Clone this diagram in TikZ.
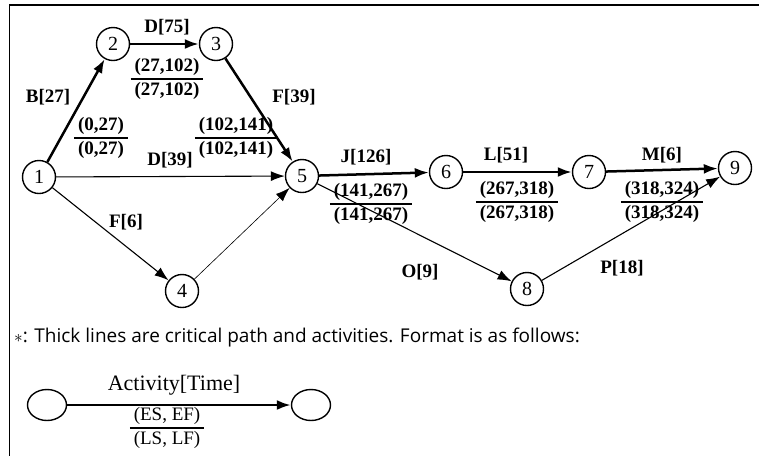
\documentclass[tikz,border=0pt]{standalone}
\usepackage{fontspec}
\setmainfont{Liberation Serif}
\setsansfont{Open Sans}
\usetikzlibrary{arrows.meta,shapes.geometric}

% two-line ES/EF over LS/LF label
\newcommand\frc[2]{\begin{tabular}{@{\hspace{4pt}}c@{\hspace{4pt}}}#1\\\hline #2\end{tabular}}
\setlength\arrayrulewidth{1.3pt}

\tikzset{
  ev/.style={circle, draw, line width=1.4pt, minimum size=33pt, inner sep=0pt,
             font=\fontsize{20}{20}\selectfont},
  lab/.style={inner sep=0pt, font=\fontsize{19}{23}\selectfont\bfseries},
  tip/.style={-{Latex[length=14pt,width=10pt]}},
  crit/.style={tip, line width=2.5pt},
  act/.style={tip, line width=1.1pt},
  faint/.style={tip, line width=0.6pt},
  legev/.style={ellipse, draw, line width=1.4pt, minimum width=39pt, minimum height=31pt},
}

\begin{document}
\begin{tikzpicture}[x=1pt, y=-1pt]
\useasboundingbox (0,0) rectangle (759,456);

% frame
\draw[line width=1.4pt] (9,5) -- (759,5);
\draw[line width=0.9pt] (9,5) -- (9,456);

% events
\node[ev] (n1) at (39,177) {1};
\node[ev] (n2) at (113,44) {2};
\node[ev] (n3) at (216,44) {3};
\node[ev] (n5) at (302,176) {5};
\node[ev] (n4) at (182,291) {4};
\node[ev] (n6) at (446,172) {6};
\node[ev] (n7) at (589,172) {7};
\node[ev] (n8) at (527,289) {8};
\node[ev] (n9) at (735,168) {9};

% activities
\draw[crit] (n1) -- (n2);
\draw[crit] (n2) -- (n3);
\draw[crit] (n3) -- (n5);
\draw[act]  (n1) -- (n5);
\draw[act]  (n1) -- (n4);
\draw[faint] (n4) -- (n5);
\draw[crit] (n5) -- (n6);
\draw[crit] (n6) -- (n7);
\draw[crit] (n7) -- (n9);

% activity names and times
\node[lab] (lB) at (48,97) {B[27]};
\node[lab] (lD75) at (167,27) {D[75]};
\node[lab] (lF39) at (294,97) {F[39]};
\node[lab] (lD39) at (170,160) {D[39]};
\node[lab] (lF6) at (126,222) {F[6]};
\node[lab] (lJ) at (366,157) {J[126]};
\node[lab] (lL) at (506,155) {L[51]};
\node[lab] (lM) at (662,155) {M[6]};
\node[lab] (lO) at (420,272) {O[9]};
\node[lab] (lP) at (622,268) {P[18]};

% schedule values
\node[lab] (s12) at (101,138) {\frc{(0,27)}{(0,27)}};
\node[lab] (s23) at (167,79) {\frc{(27,102)}{(27,102)}};
\node[lab] (s35) at (236,138) {\frc{(102,141)}{(102,141)}};
\node[lab] (s56) at (371,204) {\frc{(141,267)}{(141,267)}};
\node[lab] (s67) at (517,202) {\frc{(267,318)}{(267,318)}};
\node[lab] (s79) at (662,202) {\frc{(318,324)}{(318,324)}};

% non-critical activities crossing the values
\draw[act] (n5) -- (n8);
\draw[act] (n8) -- (n9);

% note
\node[anchor=base west, inner sep=0pt, font=\sffamily\fontsize{19}{19}\selectfont] (note) at (14,342)
  {$\ast$: Thick lines are critical path and activities. Format is as follows:};

% legend
\node[legev] (la) at (47,405) {};
\node[legev] (lb) at (311,405) {};
\draw[crit] (la) -- (lb);
\node[inner sep=0pt, font=\fontsize{22}{22}\selectfont] (lt) at (174,385) {Activity[Time]};
\node[inner sep=0pt, font=\fontsize{19}{22}\selectfont] (lv) at (167,428) {\frc{(ES, EF)}{(LS, LF)}};
\end{tikzpicture}
\end{document}
